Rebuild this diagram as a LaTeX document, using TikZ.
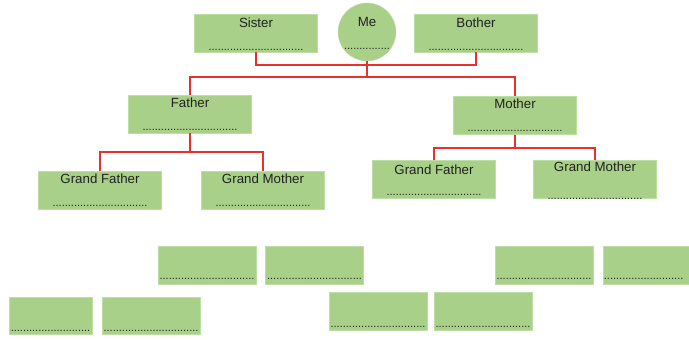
\documentclass[tikz,border=0pt]{standalone}
\usepackage{fontspec}
\setmainfont{Liberation Sans}
\usetikzlibrary{positioning, calc}
\definecolor{leafgreen}{RGB}{168, 208, 136}
\definecolor{edgegreen}{RGB}{190, 222, 166}
\definecolor{tiered}{RGB}{232, 48, 44}
\definecolor{inkgray}{RGB}{34, 34, 34}
\newcommand{\fillline}{...............................}
\newcommand{\fillmid}{..........................}
\newcommand{\fillshort}{...............}
\tikzset{
  member/.style={draw=edgegreen, fill=leafgreen, line width=0.6pt, minimum width=123pt, minimum height=38pt, inner sep=0pt},
  spare/.style={member, minimum width=98pt, minimum height=38pt},
  kin/.style={font=\fontsize{13.3}{14}\selectfont, text=inkgray, anchor=base, inner sep=0pt},
  fillin/.style={font=\fontsize{11}{11}\selectfont, text=inkgray, anchor=base, inner sep=0pt},
  tie/.style={color=tiered, line width=2pt, line join=miter}
}

\begin{document}
\begin{tikzpicture}[x=1pt, y=-1pt]
  \clip (0,0) rectangle (689,340);
  \useasboundingbox (0,0) rectangle (689,340);

  % Me and siblings
  \node[member] (sister) at (256, 33) {};
  \node[kin] at ([yshift=-14pt]sister.north) {Sister};
  \node[fillin] at ([yshift=1.5pt]sister.south) {\fillline};

  \node[draw=edgegreen, fill=leafgreen, circle, minimum size=58pt, inner sep=0pt] (me) at (367, 32) {};
  \node[kin] at ([yshift=-24pt]me.north) {Me};
  \node[fillin] at ([yshift=12pt]me.south) {\fillshort};

  \node[member] (bother) at (476, 33) {};
  \node[kin] at ([yshift=-14pt]bother.north) {Bother};
  \node[fillin] at ([yshift=1.5pt]bother.south) {\fillline};

  % Parents
  \node[member] (father) at (190, 114) {};
  \node[kin] at ([yshift=-12.5pt]father.north) {Father};
  \node[fillin] at ([yshift=3pt]father.south) {\fillline};

  \node[member] (mother) at (515, 115.5) {};
  \node[kin] at ([yshift=-12pt]mother.north) {Mother};
  \node[fillin] at ([yshift=3pt]mother.south) {\fillline};

  % Grandparents, father side
  \node[member] (gfatherf) at (100, 190) {};
  \node[kin] at ([yshift=-13pt]gfatherf.north) {Grand Father};
  \node[fillin] at ([yshift=3pt]gfatherf.south) {\fillline};

  \node[member] (gmotherf) at (263, 190) {};
  \node[kin] at ([yshift=-13pt]gmotherf.north) {Grand Mother};
  \node[fillin] at ([yshift=3pt]gmotherf.south) {\fillline};

  % Grandparents, mother side
  \node[member] (gfatherm) at (434, 179.5) {};
  \node[kin] at ([yshift=-14pt]gfatherm.north) {Grand Father};
  \node[fillin] at ([yshift=3pt]gfatherm.south) {\fillline};

  \node[member] (gmotherm) at (595, 179.5) {};
  \node[kin] at ([yshift=-11.5pt]gmotherm.north) {Grand Mother};
  \node[fillin] at ([yshift=-0.5pt]gmotherm.south) {\fillline};

  % Empty boxes
  \node[spare] (blanka) at (207, 265.5) {};
  \node[fillin] at ([yshift=5pt]blanka.south) {\fillline};
  \node[spare] (blankb) at (314.5, 265.5) {};
  \node[fillin] at ([yshift=5pt]blankb.south) {\fillline};
  \node[spare, minimum width=83pt, minimum height=37pt] (blankc) at (50.5, 315.5) {};
  \node[fillin] at ([yshift=3pt]blankc.south) {\fillmid};
  \node[spare, minimum height=37pt] (blankd) at (151, 315.5) {};
  \node[fillin] at ([yshift=3pt]blankd.south) {\fillline};
  \node[spare] (blankf) at (378, 311) {};
  \node[fillin] at ([yshift=3pt]blankf.south) {\fillline};
  \node[spare] (blankg) at (483, 311) {};
  \node[fillin] at ([yshift=3pt]blankg.south) {\fillline};
  \node[spare] (blankh) at (544, 265.5) {};
  \node[fillin] at ([yshift=5pt]blankh.south) {\fillline};
  \node[spare] (blanki) at (652, 265.5) {};
  \node[fillin, anchor=base west] at ([xshift=1pt, yshift=5pt]blanki.south west) {\fillmid};

  % Connectors
  \coordinate (sibjoin) at ([yshift=-13pt]sister.south);
  \coordinate (mejoin) at ([yshift=-16pt]me.south);
  \coordinate (fjoin) at ([yshift=-19pt]father.south);
  \coordinate (mjoin) at ([yshift=-13pt]mother.south);
  \draw[tie] (sister.south) -- (sibjoin) -| (bother.south);
  \draw[tie] (me.south) -- (mejoin);
  \draw[tie] (father.north) |- (mejoin) -| (mother.north);
  \draw[tie] (father.south) -- (fjoin);
  \draw[tie] (gfatherf.north) |- (fjoin) -| (gmotherf.north);
  \draw[tie] (mother.south) -- (mjoin);
  \draw[tie] (gfatherm.north) |- (mjoin) -| (gmotherm.north);
\end{tikzpicture}
\end{document}
